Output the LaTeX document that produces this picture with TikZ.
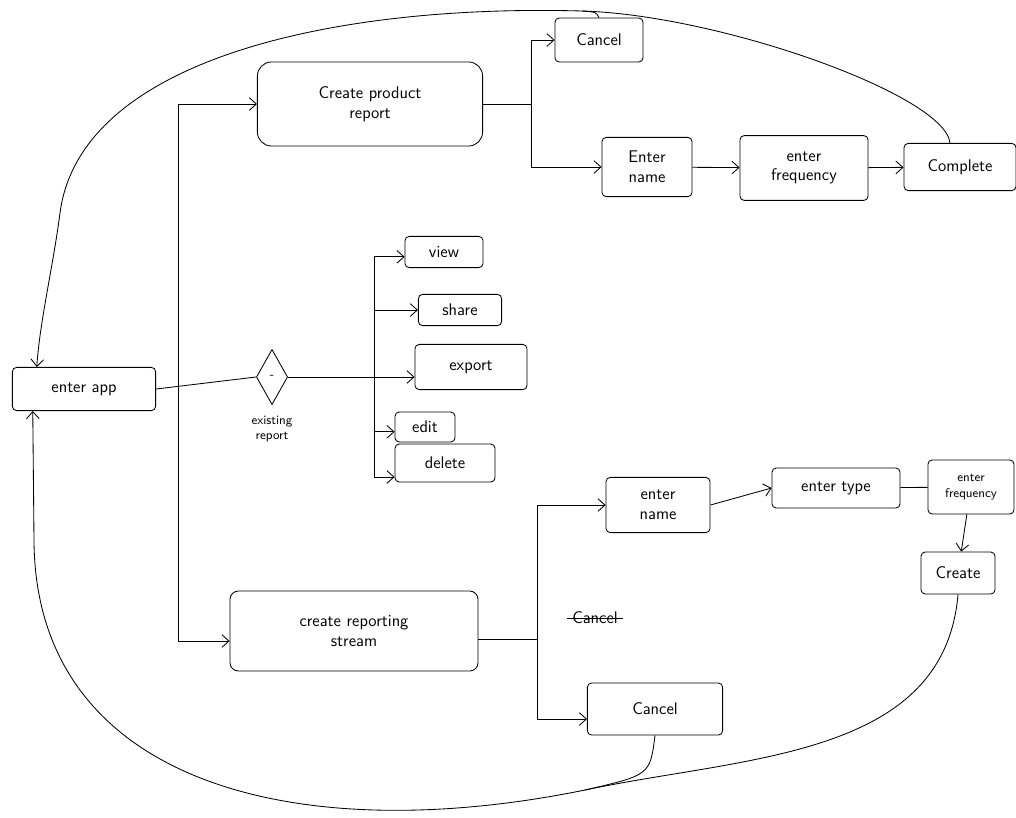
\documentclass[tikz,border=0pt]{standalone}
\usepackage{tikz}
\usetikzlibrary{shapes,arrows,arrows.meta,positioning}
\tikzstyle{box}=[rectangle,draw,semithick,rounded corners=3pt,align=center,font=\large\sffamily,inner sep=2pt]
\tikzstyle{dec}=[diamond,draw,semithick,inner sep=0pt,minimum width=0.78cm,minimum height=1.38cm,font=\small]
\tikzstyle{note}=[align=center,font=\small\sffamily]
\tikzstyle{arr}=[-{Straight Barb[length=5pt,width=9pt]},semithick]
\tikzstyle{wire}=[semithick]

\begin{document}
\begin{tikzpicture}[x=0.025cm,y=-0.025cm]
\useasboundingbox (0,0) rectangle (1016,817);
% start
\node[box,minimum width=3.58cm,minimum height=1.08cm] (app) at (84,389) {enter app};
% product report branch
\node[box,rounded corners=10pt,minimum width=5.63cm,minimum height=2.1cm] (prod) at (370,104) {Create product\\report};
\node[box,minimum width=2.2cm,minimum height=1.1cm] (cancelA) at (599,40) {Cancel};
\node[box,minimum width=2.25cm,minimum height=1.48cm] (nameA) at (647,167) {Enter\\name};
\node[box,minimum width=3.2cm,minimum height=1.62cm] (freqA) at (804,168) {enter\\frequency};
\node[box,minimum width=2.8cm,minimum height=1.18cm] (done) at (960,167) {Complete};
% existing report
\node[dec] (dia) at (272,377) {-};
\node[note,below=0.15cm of dia] (dialbl) {existing\\report};
\node[box,minimum width=1.95cm,minimum height=0.78cm] (view) at (444,252) {view};
\node[box,minimum width=2.08cm,minimum height=0.78cm] (share) at (460,310) {share};
\node[box,minimum width=2.8cm,minimum height=1.13cm] (export) at (471,367) {export};
\node[box,minimum width=1.5cm,minimum height=0.75cm] (edit) at (425,427) {edit};
\node[box,minimum width=2.5cm,minimum height=0.95cm] (delete) at (445,463) {delete};
% reporting stream branch
\node[box,rounded corners=6pt,minimum width=6.2cm,minimum height=2.0cm] (stream) at (354,631) {create reporting\\stream};
\node[box,minimum width=2.6cm,minimum height=1.38cm] (nameB) at (658,505) {enter\\name};
\node[box,minimum width=3.2cm,minimum height=1.0cm] (type) at (836,488) {enter type};
\node[box,font=\small\sffamily,minimum width=2.15cm,minimum height=1.35cm] (freqB) at (971,487) {enter\\frequency};
\node[box,minimum width=1.85cm,minimum height=1.05cm] (make) at (958,573) {Create};
\node[note,font=\large\sffamily] (struck) at (595,618) {Cancel};
\node[box,minimum width=3.38cm,minimum height=1.3cm] (cancelB) at (655,709) {Cancel};
\draw[wire] (struck.west) -- (struck.east);

% entry fan-out
\draw[wire] (app.east) -- coordinate[pos=0.22] (split) (dia.west);
\draw[arr] (split) |- (prod.west);
\draw[arr] (split) |- ([yshift=-0.25cm]stream.west);
\draw[arr] (dia.east) -- coordinate[pos=0.685] (bus) (dia.east -| export.west);
\draw[arr] (bus) |- ([yshift=-0.12cm]view.west);
\draw[arr] (bus) |- (share.west);
\draw[arr] (bus) |- ([yshift=-0.12cm]edit.west);
\draw[arr] (bus) |- ([yshift=-0.35cm]delete.west);
% product report steps
\draw[wire] (prod.east) -- ++(48,0) coordinate (forkA);
\draw[arr] (forkA) |- (cancelA.west);
\draw[arr] (forkA) |- (nameA.west);
\draw[arr] (nameA) -- (freqA);
\draw[arr] (freqA) -- (done);
% reporting stream steps
\draw[wire] ([yshift=-0.2cm]stream.east) -- ++(59,0) coordinate (forkB);
\draw[arr] (forkB) |- (nameB.west);
\draw[arr] (forkB) |- ([yshift=-0.25cm]cancelB.west);
\draw[arr] (nameB.east) -- (type.west);
\draw[wire] (type) -- (freqB);
\draw[arr] (freqB) -- (make);
% loops back to the start
\coordinate (joinA) at (582,11);
\coordinate (joinB) at (585,790);
\draw[arr] ([xshift=-0.25cm]done.north) .. controls (945,95) and (720,15) .. (joinA)
  .. controls (332,4) and (80,60) .. (60,213)
  .. controls (53,267) and (40,320) .. ([xshift=0.62cm]app.north west);
\draw[wire] (cancelA.north) .. controls (596,12) .. (joinA);
\draw[arr] (make.south) .. controls (944,758) and (746,756) .. (joinB)
  .. controls (290,850) and (35,780) .. (34,540)
  -- ([xshift=0.52cm]app.south west);
\draw[wire] (cancelB.south) .. controls (650,775) .. (joinB);
\end{tikzpicture}
\end{document}
